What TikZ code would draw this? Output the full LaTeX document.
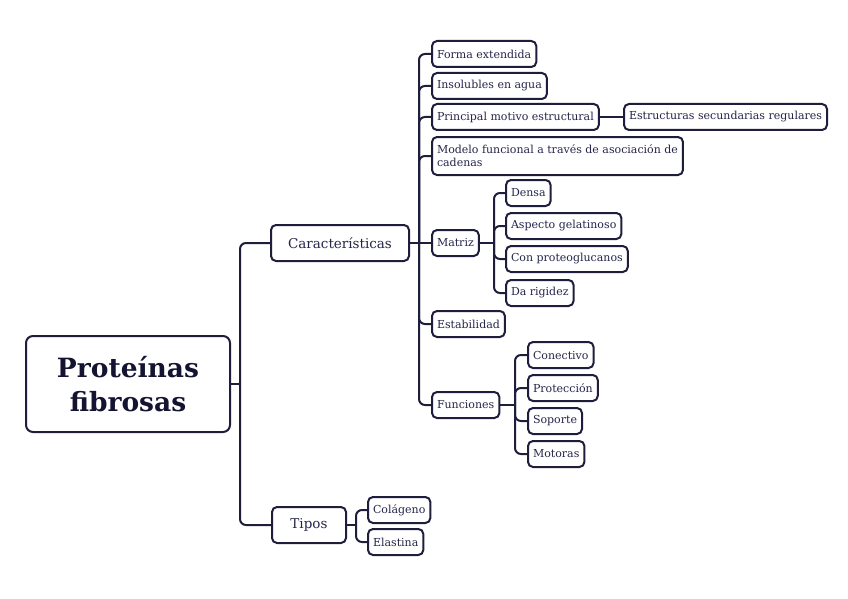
\documentclass[tikz,border=0pt]{standalone}
\usepackage{fontspec}
\setmainfont{DejaVu Serif}
\definecolor{lc}{HTML}{1E1E3C}
\definecolor{tc}{HTML}{25254A}
\definecolor{rc}{HTML}{141432}
\tikzset{
  box/.style={draw=lc, line width=2pt, rounded corners=5pt, fill=white, text=tc,
    inner xsep=5pt, inner ysep=0pt, minimum height=26pt, anchor=west,
    font=\fontsize{11}{13}\selectfont, align=left},
  midbox/.style={box, minimum height=36pt, font=\fontsize{13.5}{16}\selectfont, minimum width=0pt, anchor=center},
  rootbox/.style={draw=lc, line width=2pt, rounded corners=7pt, fill=white, text=rc,
    minimum width=204pt, minimum height=96pt, font=\fontsize{26.5}{34}\selectfont\bfseries, align=center},
  conn/.style={draw=lc, line width=2pt, rounded corners=6pt}
}
\begin{document}
\begin{tikzpicture}[x=1pt,y=-1pt]
\useasboundingbox (0,0) rectangle (848,599);
\coordinate (rj) at (240,384);
\coordinate (cj) at (419,243);
\coordinate (mj) at (494,243);
\coordinate (fj) at (515,405);
\coordinate (tj) at (356,525);
% root and main branches
\node[rootbox] (root) at (128,384) {Proteínas\\fibrosas};
\node[midbox, minimum width=138pt] (car) at (340,243) {Características};
\node[midbox, minimum width=74pt] (tip) at (309,525) {Tipos};
% characteristics children
\node[box] (forma) at (431,54) {Forma extendida};
\node[box] (insol) at (431,86) {Insolubles en agua};
\node[box] (princ) at (431,117) {Principal motivo estructural};
\node[box] (estr) at (623,117) {Estructuras secundarias regulares};
\node[box, minimum height=38pt] (mod) at (431,156) {Modelo funcional a través de asociación de\\cadenas};
\node[box] (matriz) at (431,243) {Matriz};
\node[box] (estab) at (431,324) {Estabilidad};
\node[box] (func) at (431,405) {Funciones};
% matriz children
\node[box] (densa) at (505,193) {Densa};
\node[box] (asp) at (505,226) {Aspecto gelatinoso};
\node[box] (con) at (505,259) {Con proteoglucanos};
\node[box] (da) at (505,293) {Da rigidez};
% funciones children
\node[box] (conec) at (527,355) {Conectivo};
\node[box] (prot) at (527,388) {Protección};
\node[box] (sop) at (527,421) {Soporte};
\node[box] (mot) at (527,454) {Motoras};
% tipos children
\node[box] (col) at (367,510) {Colágeno};
\node[box] (ela) at (367,542) {Elastina};
% connectors
\draw[conn] (root.east) -- (rj);
\foreach \c in {car,tip} \draw[conn] (rj) |- (\c.west);
\draw[conn] (car.east) -- (matriz.west);
\foreach \c in {forma,insol,princ,mod,estab,func} \draw[conn] (cj) |- (\c.west);
\draw[conn] (princ.east) -- (estr.west);
\draw[conn] (matriz.east) -- (mj);
\foreach \c in {densa,asp,con,da} \draw[conn] (mj) |- (\c.west);
\draw[conn] (func.east) -- (fj);
\foreach \c in {conec,prot,sop,mot} \draw[conn] (fj) |- (\c.west);
\draw[conn] (tip.east) -- (tj);
\foreach \c in {col,ela} \draw[conn] (tj) |- (\c.west);
\end{tikzpicture}
\end{document}
